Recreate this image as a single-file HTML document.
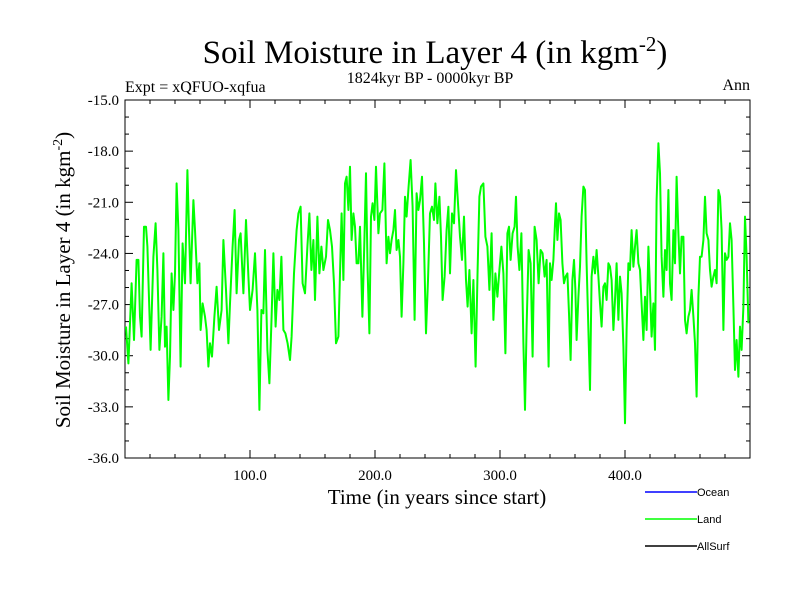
<!DOCTYPE html>
<html><head><meta charset="utf-8"><style>
html,body{margin:0;padding:0;background:#fff;}
svg{display:block;}
text{font-family:"Liberation Serif",serif;fill:#000;}
.sans{font-family:"Liberation Sans",sans-serif;}
</style></head><body>
<svg id="chart" width="800" height="600" viewBox="0 0 800 600">
<rect x="0" y="0" width="800" height="600" fill="#fff"/>
<text x="435" y="63" font-size="33" text-anchor="middle">Soil Moisture in Layer 4 (in kgm<tspan dy="-12" font-size="21">-2</tspan><tspan dy="12">)</tspan></text>
<text x="125" y="92" font-size="16">Expt = xQFUO-xqfua</text>
<text x="430" y="83" font-size="16" text-anchor="middle">1824kyr BP - 0000kyr BP</text>
<text x="750" y="90" font-size="16" text-anchor="end">Ann</text>
<g id="axes"></g>
<g id="series"></g>
<text x="437" y="504" font-size="21" text-anchor="middle">Time (in years since start)</text>
<text transform="translate(70,280) rotate(-90)" font-size="21" text-anchor="middle">Soil Moisture in Layer 4 (in kgm<tspan dy="-8" font-size="14">-2</tspan><tspan dy="8">)</tspan></text>
<g>
<g><line x1="645" y1="492" x2="697" y2="492" stroke="#0000ff" stroke-width="1.5"/><text class="sans" x="697" y="496" font-size="11">Ocean</text></g>
<g><line x1="645" y1="519" x2="697" y2="519" stroke="#00ff00" stroke-width="1.5"/><text class="sans" x="697" y="523" font-size="11">Land</text></g>
<g><line x1="645" y1="546" x2="697" y2="546" stroke="#000" stroke-width="1.5"/><text class="sans" x="697" y="550" font-size="11">AllSurf</text></g>
</g>
</svg>
<script>
const yTickValues = [-15,-18,-21,-24,-27,-30,-33,-36];
const yTickLabels = ["-15.0","-18.0","-21.0","-24.0","-27.0","-30.0","-33.0","-36.0"];
const xTickValues = [100,200,300,400];
const xTickLabels = ["100.0","200.0","300.0","400.0"];
const landYears = [0.8,2.7,5.3,7.2,9.3,10.7,12,13.3,15.2,16.8,17.9,20.5,22.7,24.5,25.9,27.5,29.3,30.7,32,33.3,34.7,36,37.3,38.7,40,41.3,42.7,44.5,46.1,48,49.9,51.2,52.5,54.7,56,57.9,59.5,60.5,62.1,64,65.3,66.7,68,69.6,71.5,73.3,75.2,77.3,78.7,80.8,82.7,84,86.1,87.7,89.3,91.2,92.5,94.7,96.8,98.7,100,102.1,104,105.9,107.5,109.1,110.7,112,113.9,115.5,117.3,118.7,120.5,121.9,123.5,125.1,126.7,128.3,130.1,132,133.3,135.2,137.3,138.7,140.5,142.1,144,145.9,147.5,149.1,150.7,152,153.9,155.5,157.1,158.7,160.8,162.4,164,165.6,167.2,168.8,170.7,172,
173.3,174.7,176,177.3,178.7,180,181.3,182.7,184,185.3,186.7,188,189.9,191.5,192.8,194.1,195.5,196.8,198.1,199.5,200.8,202.7,204,205.9,207.5,209.3,210.7,212,213.3,214.7,216,217.3,218.7,220,221.3,222.7,224,225.3,226.9,228.5,230.1,231.7,233.3,234.7,236,237.6,239.2,240.8,242.4,244,245.6,247.2,248.3,249.9,251.5,252.8,254.1,255.7,257.3,258.7,260,261.6,263.2,264.8,266.4,268,269.6,271.2,272.8,274.1,275.5,277.3,278.7,280.5,282.1,283.5,284.8,286.7,288.3,289.9,291.5,293.3,294.7,296.3,297.9,299.5,301.1,302.7,304.3,305.9,307.2,308.5,310.1,311.7,312.8,314.1,315.5,317.1,318.7,320,321.3,322.9,324.5,326.1,327.7,329.3,330.9,332.5,334.1,335.7,337.3,338.9,
340,341.3,342.7,344,344.8,345.9,347.2,348.5,349.9,351.2,352.5,353.9,355.2,356.5,357.9,359.2,360.3,361.3,362.7,364,365.3,366.7,368,369.3,370.7,372,373.3,374.7,376,377.3,378.7,380,381.3,382.7,384,385.3,386.7,388,389.3,390.7,392,393.3,394.7,396,397.3,398.7,400,401.3,402.7,404,405.3,406.7,408,409.3,410.7,412,413.3,414.7,416,417.3,418.7,420,421.3,422.7,424,425.3,426.7,428,429.3,430.7,432,433.3,434.7,436,437.3,438.7,440,441.3,442.7,444,445.3,446.7,448,449.3,450.7,452,453.3,454.7,456,457.3,458.7,460,461.3,462.7,464,465.3,466.7,468,469.3,470.7,472,473.3,474.7,476,477.3,478.7,480,481.3,482.7,484,485.3,486.7,488,489.3,490.7,492,493.3,494.7,496,497.3,498.7];
const landValues = [-28.29,-30.45,-25.75,-29.08,-24.38,-24.38,-27.71,-28.88,-22.43,-22.43,-23.60,-29.66,-24.19,-22.23,-24.97,-29.66,-27.71,-23.99,-29.47,-28.29,-32.60,-30.05,-25.17,-27.32,-25.17,-19.89,-22.63,-30.64,-23.41,-25.75,-19.11,-22.63,-25.75,-20.87,-22.63,-25.75,-24.58,-28.49,-26.93,-27.71,-28.49,-30.64,-29.27,-30.05,-27.71,-25.95,-28.49,-27.32,-23.21,-26.14,-29.27,-26.93,-23.60,-21.45,-26.34,-23.21,-22.82,-26.34,-22.04,-25.36,-27.32,-26.14,-23.99,-27.32,-33.18,-27.32,-27.51,-23.80,-29.66,-31.62,-27.71,-23.99,-28.29,-26.14,-26.73,-24.19,-28.49,-28.69,-29.27,-30.25,-28.88,-25.17,-22.63,-21.65,-21.26,-25.75,-26.34,-23.60,-21.65,-24.97,-23.21,-26.73,-21.84,-25.17,-23.60,-24.97,-24.19,-22.04,-22.63,-23.60,-25.75,-29.27,-28.88,-25.17,
-21.65,-25.56,-19.89,-19.50,-21.45,-18.91,-23.21,-21.65,-22.43,-24.58,-24.58,-22.43,-27.71,-23.21,-19.30,-24.97,-28.69,-21.84,-21.06,-22.04,-18.91,-22.82,-21.65,-21.45,-18.72,-24.58,-23.02,-23.99,-23.21,-22.63,-21.45,-23.80,-23.21,-24.19,-27.71,-24.58,-20.67,-21.84,-20.08,-18.52,-21.26,-27.90,-20.47,-21.45,-20.87,-19.50,-23.41,-28.69,-25.56,-21.65,-21.26,-22.04,-19.89,-22.23,-20.67,-23.02,-26.73,-25.36,-22.63,-21.26,-25.17,-21.65,-22.23,-19.11,-21.06,-23.02,-24.38,-21.84,-25.56,-27.12,-24.97,-28.69,-25.56,-30.64,-24.97,-20.67,-20.08,-19.89,-23.02,-23.60,-26.14,-22.82,-27.90,-25.17,-26.54,-24.97,-23.60,-25.17,-29.86,-22.82,-22.43,-24.38,-22.82,-22.43,-20.67,-23.60,-24.97,-22.82,-29.27,-33.18,-28.29,-23.80,-24.58,-30.05,-22.43,-23.21,-25.75,-23.80,-23.99,-25.36,-24.38,-30.64,
-24.58,-25.56,-24.38,-22.23,-21.06,-23.21,-21.65,-22.04,-24.58,-25.75,-25.36,-25.17,-27.51,-30.25,-25.56,-24.38,-26.14,-29.08,-26.54,-24.78,-21.84,-20.08,-20.28,-24.58,-28.49,-32.01,-25.36,-24.19,-25.17,-23.80,-25.36,-26.93,-28.29,-25.95,-25.75,-26.73,-24.58,-24.78,-25.56,-28.49,-26.73,-24.58,-27.90,-25.36,-26.34,-29.47,-33.96,-28.49,-24.58,-24.97,-22.63,-24.78,-23.60,-22.63,-24.58,-24.97,-26.93,-29.08,-26.54,-28.49,-23.60,-26.14,-28.88,-26.93,-29.66,-20.87,-17.54,-19.30,-24.19,-26.54,-23.80,-24.97,-20.28,-25.75,-26.73,-22.63,-24.58,-19.50,-22.82,-25.17,-23.02,-23.02,-27.90,-28.69,-27.71,-27.32,-26.14,-27.71,-29.27,-32.40,-26.54,-24.19,-24.19,-23.21,-20.67,-22.82,-23.21,-24.97,-25.95,-25.36,-24.97,-25.75,-20.28,-20.67,-22.63,-28.49,-23.99,-24.38,-24.19,-22.23,-23.21,-27.12,-30.84,-29.08,-31.23,-28.29,-29.66,-27.12,-21.84,-24.19,-28.10];

const NS='http://www.w3.org/2000/svg';
const X0=125,X1=750,Y0=100,Y1=458,XMIN=0,XMAX=500,YMIN=-36,YMAX=-15;
function xs(v){return X0+(v-XMIN)/(XMAX-XMIN)*(X1-X0);}
function ys(v){return Y1-(v-YMIN)/(YMAX-YMIN)*(Y1-Y0);}
function mk(tag,attrs,parent){const e=document.createElementNS(NS,tag);for(const k in attrs)e.setAttribute(k,attrs[k]);parent.appendChild(e);return e;}
const axes=document.getElementById('axes');
const frame=mk('rect',{x:X0,y:Y0,width:X1-X0,height:Y1-Y0,fill:'none',stroke:'#000','stroke-width':1},axes);


for(let v=YMIN;v<=YMAX;v+=1){
  const y=ys(v);const major=yTickValues.includes(v);const L=major?8:4;
  mk('line',{x1:X0,y1:y,x2:X0+L,y2:y,stroke:'#000','stroke-width':1},axes);
  mk('line',{x1:X1,y1:y,x2:X1-L,y2:y,stroke:'#000','stroke-width':1},axes);
}
yTickValues.forEach((v,i)=>{
  const t=mk('text',{x:X0-6,y:ys(v)+5,'font-size':15,'text-anchor':'end'},axes);
  t.textContent=yTickLabels[i];
  
  
});
for(let v=20;v<XMAX;v+=20){
  const x=xs(v);const major=xTickValues.includes(v);const L=major?8:4;
  mk('line',{x1:x,y1:Y1,x2:x,y2:Y1-L,stroke:'#000','stroke-width':1},axes);
  mk('line',{x1:x,y1:Y0,x2:x,y2:Y0+L,stroke:'#000','stroke-width':1},axes);
}
xTickValues.forEach((v,i)=>{
  const t=mk('text',{x:xs(v),y:Y1+22,'font-size':15,'text-anchor':'middle'},axes);
  t.textContent=xTickLabels[i];
  
  
});
const n=Math.min(landYears.length,landValues.length);
let d='';
for(let i=0;i<n;i++){d+=(i?'L':'M')+xs(landYears[i]).toFixed(1)+','+ys(landValues[i]).toFixed(1);}
const line=mk('path',{d:d,fill:'none',stroke:'#00ff00','stroke-width':2,'stroke-linejoin':'round'},document.getElementById('series'));


</script>
</body></html>
